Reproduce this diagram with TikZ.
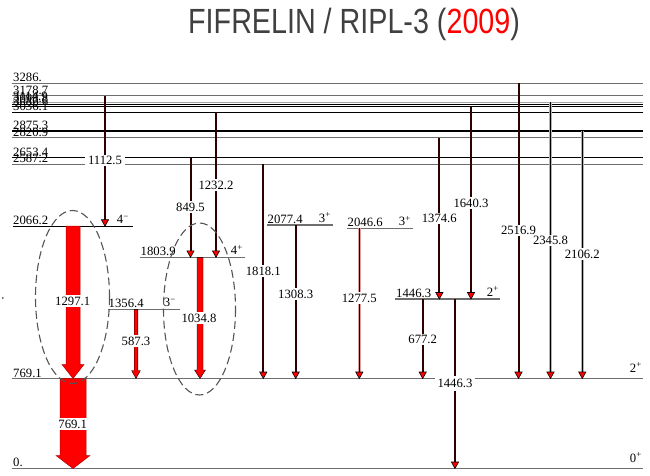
\documentclass[tikz,border=0pt]{standalone}
\usepackage{fontspec}
\setmainfont{Liberation Serif}
\newfontfamily\titlefont{Liberation Sans}
\definecolor{lvgray}{RGB}{110,110,110}
\definecolor{lvlight}{RGB}{165,165,165}
\definecolor{tdark}{RGB}{45,0,0}
\definecolor{tpink}{RGB}{225,160,160}
\definecolor{ellgray}{RGB}{85,85,85}
\definecolor{titlegray}{RGB}{64,64,64}
\newcommand\mytrans[7]{%
  \coordinate (#1a) at (#2,#3);
  \coordinate (#1b) at (#2,#4);
  \draw[#7] (#1a) -- ([yshift=5pt]#1b);
  \filldraw[ahead] (#1b) -- ++(-3.6,-6.5) -- ++(7.2,0) -- cycle;
  \node[tlab] (#1l) at (#2,#6) {#5};
}
\begin{document}
\begin{tikzpicture}[x=1pt,y=-1pt,
  lvl/.style={line width=1.3pt, draw=black},
  lvlg/.style={lvl, draw=lvgray},
  lvll/.style={lvl, draw=lvlight},
  lab/.style={font=\fontsize{12.7}{14}\selectfont, inner sep=0pt, anchor=base west},
  spin/.style={lab, anchor=base east},
  tlab/.style={font=\fontsize{12.7}{14}\selectfont, fill=white, inner xsep=3pt, inner ysep=1.5pt},
  tline/.style={line width=2pt, draw=tdark},
  tlinep/.style={line width=1.0pt, draw=black, preaction={draw=tpink, line width=2.6pt}},
  ahead/.style={fill=red, draw=black, line width=0.6pt, line join=miter},
  bigarr/.style={fill=red, draw=red!70!black, line width=0.5pt},
  ell/.style={draw=ellgray, line width=1.1pt, dash pattern=on 8pt off 4pt}]
\useasboundingbox (0,0) rectangle (650,476);

% title
\node[anchor=base west, inner sep=0pt] (title) at (188,33.3)
  {\scalebox{0.82}[1]{\titlefont\fontsize{35}{40}\selectfont\color{titlegray}FIFRELIN / RIPL-3 (\textcolor{red}{2009})}};

% small mark at left
\fill[lvgray] (2.7,298) circle (1.1);

% full-width levels
\draw[lvlg] (12,83.3) -- (643,83.3);   \node[lab] (n3286) at (13,81.8) {3286.};
\draw[lvlg] (12,95.7) -- (643,95.7);   \node[lab] (n3178) at (13,94.2) {3178.7};
\draw[lvll] (12,102.3) -- (643,102.3); \node[lab] (n3114) at (13,100.8) {3114.9};
\draw[lvl]  (12,104.3) -- (643,104.3); \node[lab] (n3098) at (13,102.8) {3098.8};
\draw[lvl]  (12,106.7) -- (643,106.7); \node[lab] (n3086) at (13,105.2) {3086.6};
\draw[lvl]  (12,112.3) -- (643,112.3); \node[lab] (n3036) at (13,110.8) {3036.1};
\draw[lvl]  (12,131.0) -- (643,131.0); \node[lab] (n2875) at (13,129.5) {2875.3};
\draw[lvlg] (12,137.7) -- (643,137.7); \node[lab] (n2820) at (13,136.2) {2820.9};
\draw[lvl]  (12,157.7) -- (643,157.7); \node[lab] (n2653) at (13,156.2) {2653.4};
\draw[lvlg] (12,164.3) -- (643,164.3); \node[lab] (n2587) at (13,162.8) {2587.2};
\draw[lvlg] (12,378.5) -- (643,378.5); \node[lab] (n769) at (13,377) {769.1};
\node[spin] (s769) at (642,372) {2\textsuperscript{+}};
\draw[lvlg] (12,468.5) -- (643,468.5); \node[lab] (n0) at (13,466.5) {0.};
\node[spin] (s0) at (642,462) {0\textsuperscript{+}};

% short levels
\draw[lvl]  (12.7,226.2) -- (133,226.2); \node[lab] (n2066) at (13,224.5) {2066.2};
\node[spin] (s2066) at (129,223.5) {4\textsuperscript{−}};
\draw[lvlg] (140,257.3) -- (245,257.3); \node[lab] (n1803) at (140.5,255.5) {1803.9};
\node[spin] (s1803) at (243,254.5) {4\textsuperscript{+}};
\draw[lvlg] (108,309.3) -- (180,309.3); \node[lab] (n1356) at (108.5,307.5) {1356.4};
\node[spin] (s1356) at (176,306.5) {3\textsuperscript{−}};
\draw[lvlg] (267,225) -- (333,225); \node[lab] (n2077) at (267.5,223.3) {2077.4};
\node[spin] (s2077) at (331,222.3) {3\textsuperscript{+}};
\draw[lvlg] (347,228.3) -- (413,228.3); \node[lab] (n2046) at (347.5,226.6) {2046.6};
\node[spin] (s2046) at (411,225.6) {3\textsuperscript{+}};
\draw[lvlg] (395,299) -- (500,299); \node[lab] (n1446) at (396,297.3) {1446.3};
\node[spin] (s1446) at (499,296.3) {2\textsuperscript{+}};

% big red transitions
\coordinate (B1a) at (73,226.2); \coordinate (B1b) at (73,378.5);
\filldraw[bigarr] ([xshift=-7pt]B1a) -- ([xshift=7pt]B1a) -- ([xshift=7pt,yshift=14pt]B1b) -- ([xshift=11pt,yshift=14pt]B1b) -- (B1b) -- ([xshift=-11pt,yshift=14pt]B1b) -- ([xshift=-7pt,yshift=14pt]B1b) -- cycle;
\node[tlab] (B1l) at (72.7,301) {1297.1};

\coordinate (B2a) at (73,378.5); \coordinate (B2b) at (73,468.5);
\filldraw[bigarr] ([xshift=-13pt]B2a) -- ([xshift=13pt]B2a) -- ([xshift=13pt,yshift=13pt]B2b) -- ([xshift=17pt,yshift=13pt]B2b) -- (B2b) -- ([xshift=-17pt,yshift=13pt]B2b) -- ([xshift=-13pt,yshift=13pt]B2b) -- cycle;
\node[tlab, inner xsep=1pt] (B2l) at (72.7,424) {769.1};

\coordinate (B3a) at (200,257.3); \coordinate (B3b) at (200,378.5);
\filldraw[bigarr, draw=black, line width=0.4pt] ([xshift=-3pt]B3a) -- ([xshift=3pt]B3a) -- ([xshift=3pt,yshift=8.5pt]B3b) -- ([xshift=5.5pt,yshift=8.5pt]B3b) -- (B3b) -- ([xshift=-5.5pt,yshift=8.5pt]B3b) -- ([xshift=-3pt,yshift=8.5pt]B3b) -- cycle;
\node[tlab] (B3l) at (199,318) {1034.8};

\coordinate (B4a) at (136,309.3); \coordinate (B4b) at (136,378.5);
\filldraw[bigarr, draw=black, line width=0.4pt] ([xshift=-1.8pt]B4a) -- ([xshift=1.8pt]B4a) -- ([xshift=1.8pt,yshift=8pt]B4b) -- ([xshift=4.4pt,yshift=8pt]B4b) -- (B4b) -- ([xshift=-4.4pt,yshift=8pt]B4b) -- ([xshift=-1.8pt,yshift=8pt]B4b) -- cycle;
\node[tlab] (B4l) at (136,341) {587.3};

% thin transitions
\mytrans{t1}{105}{95.7}{226.2}{1112.5}{160.5}{tline}
\mytrans{t2}{190.5}{157.7}{257.3}{849.5}{207}{tline}
\mytrans{t3}{216}{112.3}{257.3}{1232.2}{185}{tline}
\mytrans{t4}{263.3}{164.3}{378.5}{1818.1}{271}{tline}
\mytrans{t5}{295.7}{225}{378.5}{1308.3}{294}{tline}
\mytrans{t6}{359.3}{228.3}{378.5}{1277.5}{298}{tlinep}
\mytrans{t7}{439.3}{137.7}{299}{1374.6}{218.5}{tline}
\mytrans{t8}{471}{106.7}{299}{1640.3}{203.3}{tline}
\mytrans{t9}{422.7}{299}{378.5}{677.2}{339.3}{tline}
\mytrans{t10}{455}{299}{468.5}{}{384}{tline}
\node[tlab, inner ysep=3pt] (t10lab) at (455,383.5) {1446.3};
\mytrans{t11}{518.5}{83.3}{378.5}{2516.9}{230.5}{tline}
\mytrans{t12}{550.5}{102.3}{378.5}{2345.8}{240.5}{tlinep}
\mytrans{t13}{582.3}{131}{378.5}{2106.2}{254.3}{tlinep}

% dashed ellipses
\draw[ell] (72.5,297) ellipse [x radius=37, y radius=86.5];
\draw[ell] (199.5,309) ellipse [x radius=36, y radius=86];
\end{tikzpicture}
\end{document}
